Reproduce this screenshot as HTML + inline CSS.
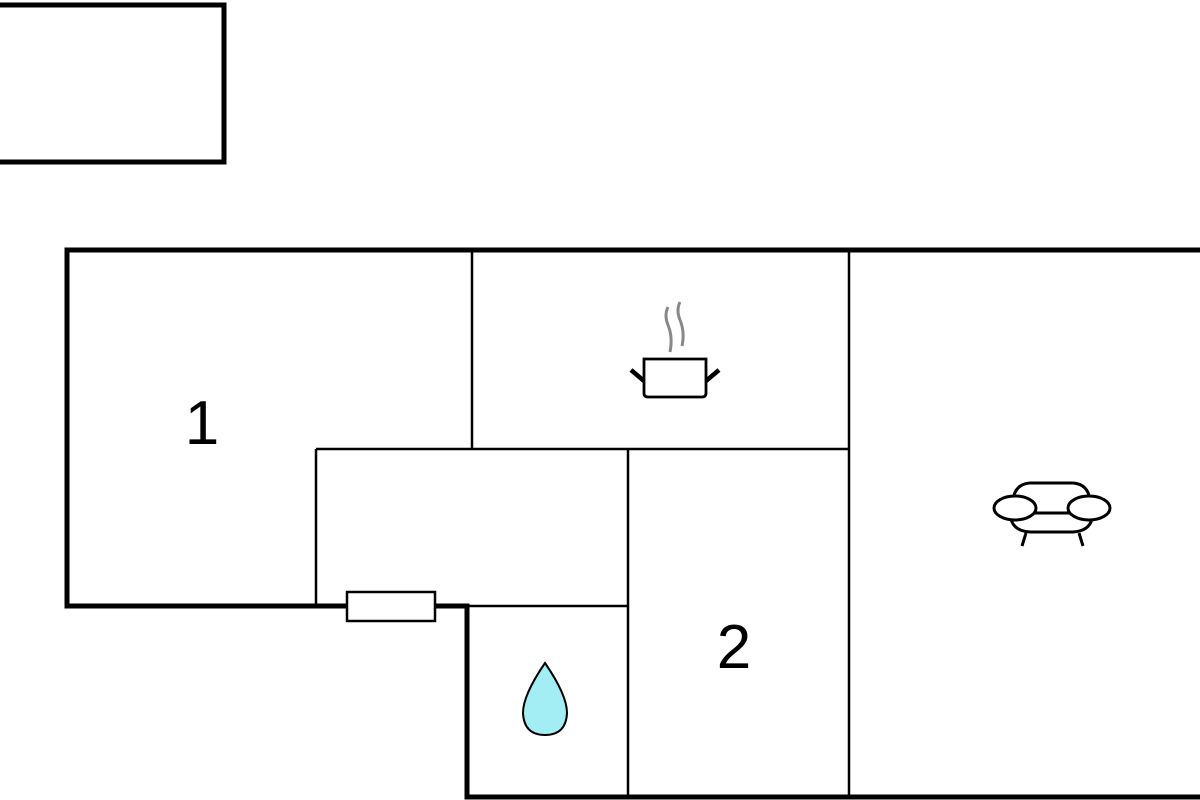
<!DOCTYPE html>
<html><head><style>html,body{margin:0;padding:0;background:#fff;}svg{display:block}</style></head>
<body>
<svg width="1200" height="800" viewBox="0 0 1200 800" xmlns="http://www.w3.org/2000/svg">
<rect width="1200" height="800" fill="#fff"/>
<g fill="none" stroke="#000">
<polyline points="-5,5 224,5 224,162 -5,162" stroke-width="5"/>
<polyline points="1205,250 67,250 67,606 467,606 467,797 1205,797" stroke-width="5"/>
<g stroke-width="2.5">
<line x1="472" y1="250" x2="472" y2="449"/>
<line x1="316" y1="449" x2="849" y2="449"/>
<line x1="316" y1="449" x2="316" y2="606"/>
<line x1="849" y1="250" x2="849" y2="797"/>
<line x1="628" y1="449" x2="628" y2="797"/>
<line x1="467" y1="606" x2="628" y2="606"/>
</g>
<rect x="347" y="592" width="88" height="29" fill="#fff" stroke-width="2.5"/>
<!-- pot -->
<path d="M644,359 H706 V393 Q706,397 702,397 H648 Q644,397 644,393 Z" stroke-width="2.8" fill="#fff"/>
<line x1="631" y1="370" x2="644" y2="381" stroke-width="4.5"/>
<line x1="719" y1="370" x2="706" y2="381" stroke-width="4.5"/>
<path d="M668,307 Q664,315 668,325 Q673,337 670,352" stroke="#888" stroke-width="3"/>
<path d="M680,302 Q676,310 680,320 Q685,332 682,346" stroke="#888" stroke-width="3"/>
<!-- sofa -->
<g stroke-width="3">
<path d="M1013,500 Q1015,484 1030,483 H1073 Q1088,484 1090,500"/>
<path d="M1011,519 Q1014,531 1030,532 H1073 Q1089,531 1092,519"/>
<line x1="1024" y1="513" x2="1079" y2="513"/>
<ellipse cx="1015" cy="508" rx="21" ry="12" fill="#fff"/>
<ellipse cx="1089" cy="508" rx="21" ry="12" fill="#fff"/>
<line x1="1026" y1="533" x2="1022" y2="546"/>
<line x1="1079" y1="533" x2="1083" y2="546"/>
</g>
<!-- drop -->
<path d="M545,663 Q523,695 523,713 Q524,735 545,735 Q566,735 567,713 Q567,695 545,663 Z" fill="#a3eef5" stroke-width="2"/>
</g>
<text x="202" y="444" font-family="Liberation Sans, sans-serif" font-size="62" text-anchor="middle">1</text>
<text x="734" y="668" font-family="Liberation Sans, sans-serif" font-size="62" text-anchor="middle">2</text>
</svg>
</body></html>
